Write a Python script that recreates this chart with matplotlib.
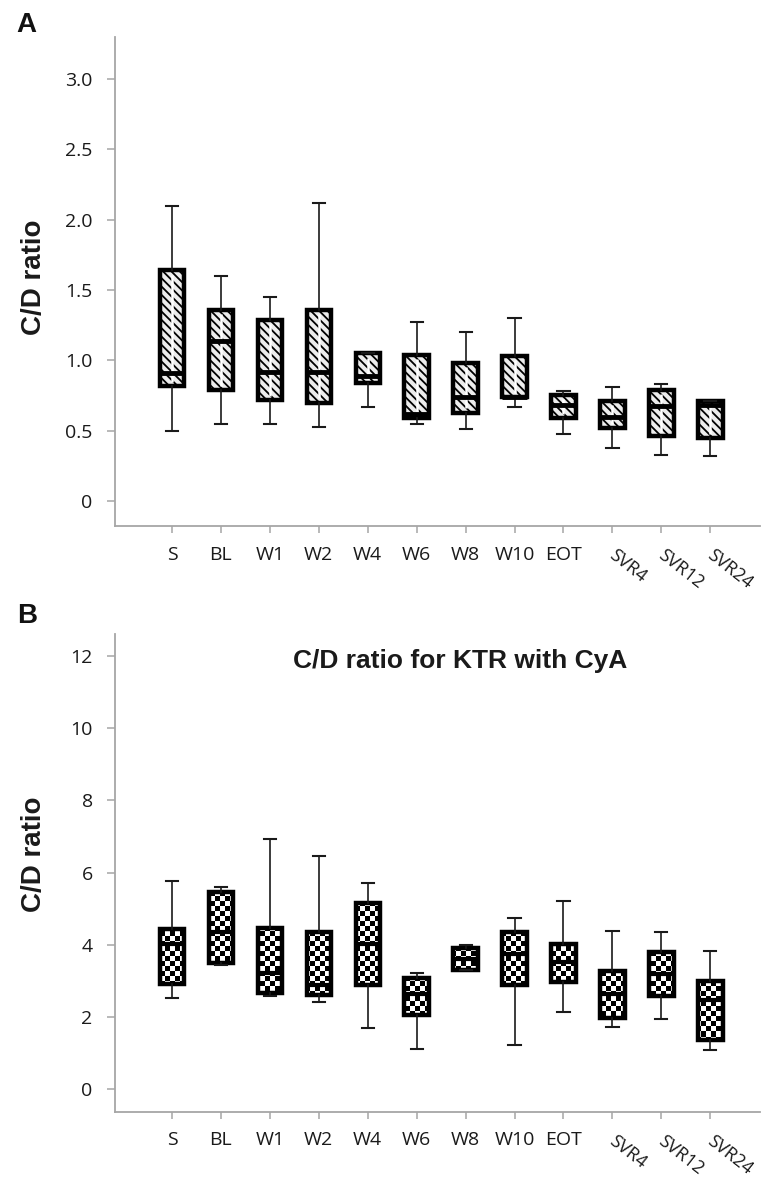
import matplotlib
matplotlib.use("Agg")
import matplotlib.pyplot as plt
import matplotlib.transforms as mtransforms
from matplotlib.path import Path
from matplotlib.patches import PathPatch
import numpy as np

# time points
labels = ['S', 'BL', 'W1', 'W2', 'W4', 'W6', 'W8', 'W10', 'EOT', 'SVR4', 'SVR12', 'SVR24']

# panel A: C/D ratio (min, q1, median, q3, max)
a_low = [0.50, 0.55, 0.55, 0.53, 0.67, 0.55, 0.51, 0.67, 0.48, 0.38, 0.33, 0.32]
a_q1 = [0.82, 0.79, 0.72, 0.70, 0.84, 0.59, 0.63, 0.74, 0.59, 0.52, 0.46, 0.45]
a_med = [0.91, 1.14, 0.92, 0.92, 0.89, 0.62, 0.74, 0.74, 0.685, 0.60, 0.675, 0.68]
a_q3 = [1.64, 1.36, 1.29, 1.36, 1.05, 1.04, 0.98, 1.03, 0.755, 0.71, 0.79, 0.71]
a_high = [2.10, 1.60, 1.45, 2.12, 1.05, 1.27, 1.20, 1.30, 0.785, 0.81, 0.83, 0.71]

# panel B: C/D ratio for KTR with CyA
b_low = [2.53, 3.45, 2.59, 2.41, 1.68, 1.12, 3.31, 1.21, 2.13, 1.72, 1.95, 1.09]
b_q1 = [2.90, 3.49, 2.67, 2.61, 2.87, 2.06, 3.31, 2.89, 2.96, 1.98, 2.57, 1.35]
b_med = [4.02, 4.34, 3.22, 2.87, 4.02, 2.64, 3.60, 3.74, 3.51, 2.64, 3.19, 2.46]
b_q3 = [4.43, 5.46, 4.46, 4.34, 5.16, 3.07, 3.90, 4.36, 4.02, 3.27, 3.79, 2.98]
b_high = [5.77, 5.61, 6.92, 6.46, 5.70, 3.21, 3.98, 4.75, 5.22, 4.39, 4.34, 3.83]

a_ticks = [0, 0.5, 1.0, 1.5, 2.0, 2.5, 3.0]
a_ticklabels = ['0', '0.5', '1.0', '1.5', '2.0', '2.5', '3.0']
b_ticks = [0, 2, 4, 6, 8, 10, 12]

tick_font = 'Open Sans'
bold_font = 'Liberation Sans'
spine_col = '#a6a6a6'
xlim = (-1.166, 12.02)


def make_stats(low, q1, med, q3, high):
    return [dict(whislo=l, q1=a, med=m, q3=b, whishi=h, fliers=[])
            for l, a, m, b, h in zip(low, q1, med, q3, high)]


def style_axis(ax, ylim, yticks, yticklabels):
    pos = np.arange(len(labels))
    ax.set_xlim(*xlim)
    ax.set_ylim(*ylim)
    for s in ['top', 'right']:
        ax.spines[s].set_visible(False)
    for s in ['left', 'bottom']:
        ax.spines[s].set_color(spine_col)
        ax.spines[s].set_linewidth(1.3)
    ax.set_yticks(yticks)
    ax.set_yticklabels(yticklabels, fontfamily=tick_font, fontsize=14, color='#1a1a1a')
    ax.set_xticks(pos)
    ax.set_xticklabels(labels, fontfamily=tick_font, fontsize=14, color='#1a1a1a')
    ax.tick_params(axis='y', length=6, width=1.1, color=spine_col, pad=10)
    ax.tick_params(axis='x', length=5, width=1.1, color=spine_col, pad=9)
    # the SVR labels are slanted, nudged a little to the left
    shift = mtransforms.ScaledTranslation(-7 / 100, 0, fig.dpi_scale_trans)
    for lab in ax.get_xticklabels()[9:]:
        lab.set_rotation(-38)
        lab.set_fontsize(13)
        lab.set_ha('left')
        lab.set_va('top')
        lab.set_transform(lab.get_transform() + shift)


def draw_boxes(ax, stats, hatch, face, med_lw):
    res = ax.bxp(stats, positions=np.arange(len(labels)), widths=0.5,
                 showfliers=False, patch_artist=True,
                 boxprops=dict(facecolor=face, edgecolor='black', linewidth=3.2, hatch=hatch),
                 medianprops=dict(color='black', linewidth=med_lw, zorder=4),
                 whiskerprops=dict(color='#1a1a1a', linewidth=1.2),
                 capprops=dict(color='#1a1a1a', linewidth=1.5))
    for b in res['boxes']:
        if hatch and hasattr(b, 'set_hatch_linewidth'):
            b.set_hatch_linewidth(1.3)
    return res


fig = plt.figure(figsize=(7.61, 11.8), dpi=100)

# ---- panel A ----
axA = fig.add_axes([0.151, 0.554, 0.848, 0.415])
plt.rcParams['hatch.linewidth'] = 1.3
draw_boxes(axA, make_stats(a_low, a_q1, a_med, a_q3, a_high), '\\\\\\\\', '#ececec', 3.5)
# white split line through the middle of each hatched box
axA.vlines(np.arange(len(labels)), np.array(a_q1) + 0.03, np.array(a_q3) - 0.03,
           color='white', linewidth=1.8, zorder=3)
style_axis(axA, (-0.178, 3.30), a_ticks, a_ticklabels)

# ---- panel B ----
axB = fig.add_axes([0.151, 0.0576, 0.848, 0.405])
b_ylim = (-0.64, 12.61)
resB = draw_boxes(axB, make_stats(b_low, b_q1, b_med, b_q3, b_high), None, 'none', 3.0)
# checkerboard fill, clipped to the boxes
cell_px = 5
ncols = int(0.848 * 761 / cell_px)
nrows = int(0.405 * 1180 / cell_px)
ii, jj = np.indices((nrows, ncols))
checker = ((ii + jj) % 2).astype(float)
clip = Path.make_compound_path(*[b.get_path() for b in resB['boxes']])
clip_patch = PathPatch(clip, transform=axB.transData, facecolor='none', edgecolor='none')
axB.add_patch(clip_patch)
img = axB.imshow(checker, cmap='gray', vmin=0, vmax=1, aspect='auto', interpolation='nearest',
                 extent=(xlim[0], xlim[1], b_ylim[0], b_ylim[1]), zorder=1.5)
img.set_clip_path(clip_patch)
style_axis(axB, b_ylim, b_ticks, [str(t) for t in b_ticks])
axB.text(0.6045, 0.440, 'C/D ratio for KTR with CyA', transform=fig.transFigure,
         ha='center', va='center', fontsize=19, fontweight='bold', fontfamily=bold_font,
         color='#1a1a1a')

# y labels and panel letters
fig.text(0.045, 0.765, 'C/D ratio', rotation=90, ha='center', va='center',
         fontsize=20, fontweight='bold', fontfamily=bold_font, color='#1a1a1a')
fig.text(0.045, 0.2763, 'C/D ratio', rotation=90, ha='center', va='center',
         fontsize=20, fontweight='bold', fontfamily=bold_font, color='#1a1a1a')
fig.text(26 / 761, 1 - 25 / 1180, 'A', ha='center', va='center',
         fontsize=20, fontweight='bold', fontfamily=bold_font, color='#111111')
fig.text(27 / 761, 1 - 616 / 1180, 'B', ha='center', va='center',
         fontsize=20, fontweight='bold', fontfamily=bold_font, color='#111111')

fig.savefig('out.png', dpi=100)
